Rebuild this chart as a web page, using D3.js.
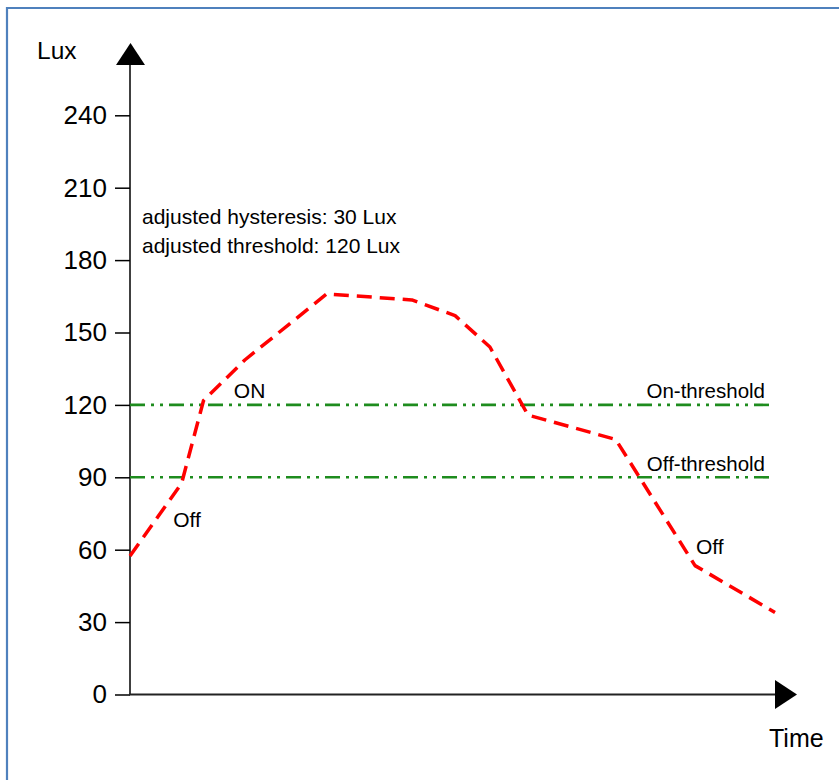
<!DOCTYPE html>
<html>
<head>
<meta charset="utf-8">
<script src="https://cdn.jsdelivr.net/npm/d3@7"></script>
<style>
html,body{margin:0;padding:0;background:#fff;}
svg{display:block;font-family:Arial,"Liberation Sans",sans-serif;}
</style>
</head>
<body>
<svg id="chart" width="839" height="780"></svg>
<script>
// Data (time in arbitrary units 0..100, brightness in Lux)
const timePoints = [0, 8.0, 11.4, 17.8, 30.5, 43.7, 50.4, 55.8, 61.7, 75.3, 87.6, 100];
const luxValues  = [57.4, 87.5, 121.8, 138.6, 166, 163.5, 157, 144, 115.8, 105.7, 53.4, 34];
const yTicks = [0, 30, 60, 90, 120, 150, 180, 210, 240];
const thresholds = [
  {name: "On-threshold", value: 120},
  {name: "Off-threshold", value: 90}
];
const eventLabels = [
  {text: "Off", t: 6.7, lux: 69.4},
  {text: "ON", t: 16.1, lux: 122.9},
  {text: "Off", t: 87.75, lux: 58.2}
];
const notes = ["adjusted hysteresis: 30 Lux", "adjusted threshold: 120 Lux"];

const svg = d3.select("#chart");
const x = d3.scaleLinear().domain([0, 100]).range([130, 775]);
const y = d3.scaleLinear().domain([0, 240]).range([694.5, 115.3]);

// frame border
svg.append("path")
  .attr("d", "M7,780 L7,8 L839,8")
  .attr("fill", "none").attr("stroke", "#4f81bd").attr("stroke-width", 2.2);

// y axis
const yAxis = d3.axisLeft(y).tickValues(yTicks).tickSize(15).tickPadding(8).tickFormat(d3.format("d"));
const gy = svg.append("g").attr("transform", "translate(130,0)").call(yAxis);
gy.select(".domain").remove();
gy.selectAll(".tick line").attr("stroke", "#000").attr("stroke-width", 1.5);
gy.selectAll(".tick text").attr("font-size", 26).attr("fill", "#000")
  .attr("font-family", "Arial, 'Liberation Sans', sans-serif");

svg.append("line").attr("x1", 130).attr("x2", 130).attr("y1", y(0)).attr("y2", 64)
  .attr("stroke", "#000").attr("stroke-width", 1.5);
svg.append("path").attr("d", "M116,65 L145,65 L130.5,43 Z").attr("fill", "#000");

// x axis
svg.append("line").attr("x1", 129).attr("x2", x(100)).attr("y1", y(0)).attr("y2", y(0))
  .attr("stroke", "#222").attr("stroke-width", 2);
svg.append("path").attr("d", `M${x(100)},680 L${x(100)},709 L797,${y(0)} Z`).attr("fill", "#000");

svg.append("text").attr("x", 37).attr("y", 59).attr("font-size", 24.5).text("Lux");
svg.append("text").attr("x", 769).attr("y", 747).attr("font-size", 25).text("Time");

// threshold lines
thresholds.forEach(th => {
  svg.append("line").attr("x1", x(0)).attr("x2", x(100)).attr("y1", y(th.value)).attr("y2", y(th.value))
    .attr("stroke", "#1e8c1e").attr("stroke-width", 2.6)
    .attr("stroke-dasharray", "15,6,3,6,3,6");
  svg.append("text").attr("x", 765).attr("y", y(th.value) - 6.5).attr("text-anchor", "end")
    .attr("font-size", 20.5).text(th.name);
});

// brightness curve
const line = d3.line().x((d, i) => x(timePoints[i])).y(d => y(d));
svg.append("path").datum(luxValues).attr("d", line)
  .attr("fill", "none").attr("stroke", "#ff0000").attr("stroke-width", 3.5)
  .attr("stroke-dasharray", "15,8").attr("stroke-linejoin", "round");

// event labels
eventLabels.forEach(l => {
  svg.append("text").attr("x", x(l.t)).attr("y", y(l.lux)).attr("font-size", 21).text(l.text);
});

// notes
notes.forEach((n, i) => {
  svg.append("text").attr("x", 142).attr("y", 224 + i * 29).attr("font-size", 21).text(n);
});
</script>
</body>
</html>
